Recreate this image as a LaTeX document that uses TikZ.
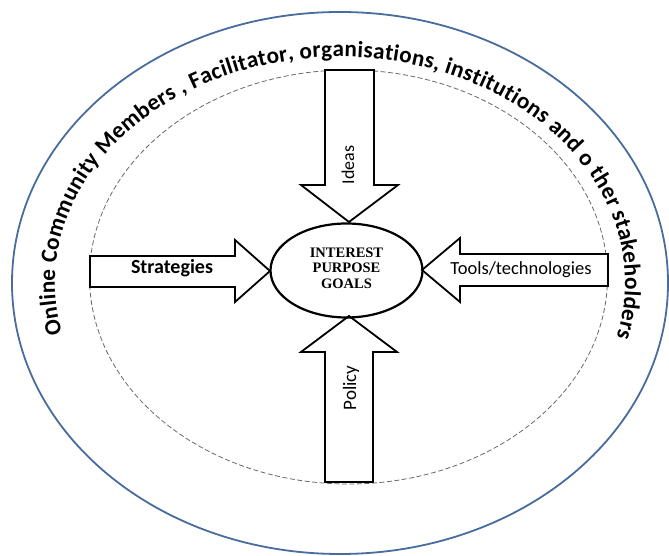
\documentclass[tikz,border=0pt]{standalone}
\usepackage{fontspec}
\setmainfont{Carlito}
\newfontfamily\serifbold{Liberation Serif}
\usetikzlibrary{decorations.text,shapes.geometric}
\definecolor{outerblue}{RGB}{72,108,158}
\definecolor{dashgray}{RGB}{105,105,105}
\tikzset{
  blockarrow/.style={draw=black, line width=1.8pt, fill=white, line join=miter},
  armlabel/.style={inner sep=0pt, font=\fontsize{18.5}{20}\selectfont},
}
\begin{document}
\begin{tikzpicture}[x=1pt,y=1pt]
\useasboundingbox (0,0) rectangle (669,556);
% outer ellipse
\draw[outerblue, line width=1.8pt] (340,273) ellipse [x radius=328, y radius=271];
% inner dashed ellipse
\draw[dashgray, line width=0.8pt, dash pattern=on 5pt off 2.5pt] (348.5,279) ellipse [x radius=259, y radius=207];
% text along the outer ring
\path[decorate, decoration={text along path, text align={fit to path},
  text={|\bfseries\fontsize{23.2}{25}\selectfont|Online Community Members , Facilitator, organisations, institutions and o ther stakeholders}}]
  (340,273) ++(193:285 and 226) arc[start angle=193, end angle=-14, x radius=285, y radius=226];
% Ideas arrow (down)
\draw[blockarrow] (325,486) -- (374,486) -- (374,371) -- (398,371) -- (349,334) -- (301,371) -- (325,371) -- cycle;
% Policy arrow (up)
\draw[blockarrow] (325,74) -- (373,74) -- (373,204) -- (397,204) -- (349,240) -- (301,204) -- (325,204) -- cycle;
% Strategies arrow (right)
\draw[blockarrow] (90,300) -- (235,300) -- (235,316) -- (270,285) -- (235,254) -- (235,269) -- (90,269) -- cycle;
% Tools arrow (left)
\draw[blockarrow] (608,302) -- (460,302) -- (460,318) -- (422,286) -- (460,254) -- (460,270) -- (608,270) -- cycle;
% centre ellipse
\node[draw=black, line width=2.2pt, ellipse, minimum width=152pt, minimum height=94pt, inner sep=0pt] (core) at (346.5,285.5) {};
\node[align=center, inner sep=0pt, font=\serifbold\bfseries\fontsize{14.5}{15.5}\selectfont] (coretext) at (346.5,288)
  {INTEREST\\PURPOSE\\GOALS};
% arm labels
\node[armlabel, font=\bfseries\fontsize{20}{22}\selectfont] (strat) at (172,288) {Strategies};
\node[armlabel] (tools) at (521,286) {Tools/technologies};
\node[armlabel, rotate=90, font=\fontsize{18}{20}\selectfont] (ideas) at (348,391) {Ideas};
\node[armlabel, rotate=90, font=\fontsize{19}{21}\selectfont] (policy) at (351,168) {Policy};
\end{tikzpicture}
\end{document}
